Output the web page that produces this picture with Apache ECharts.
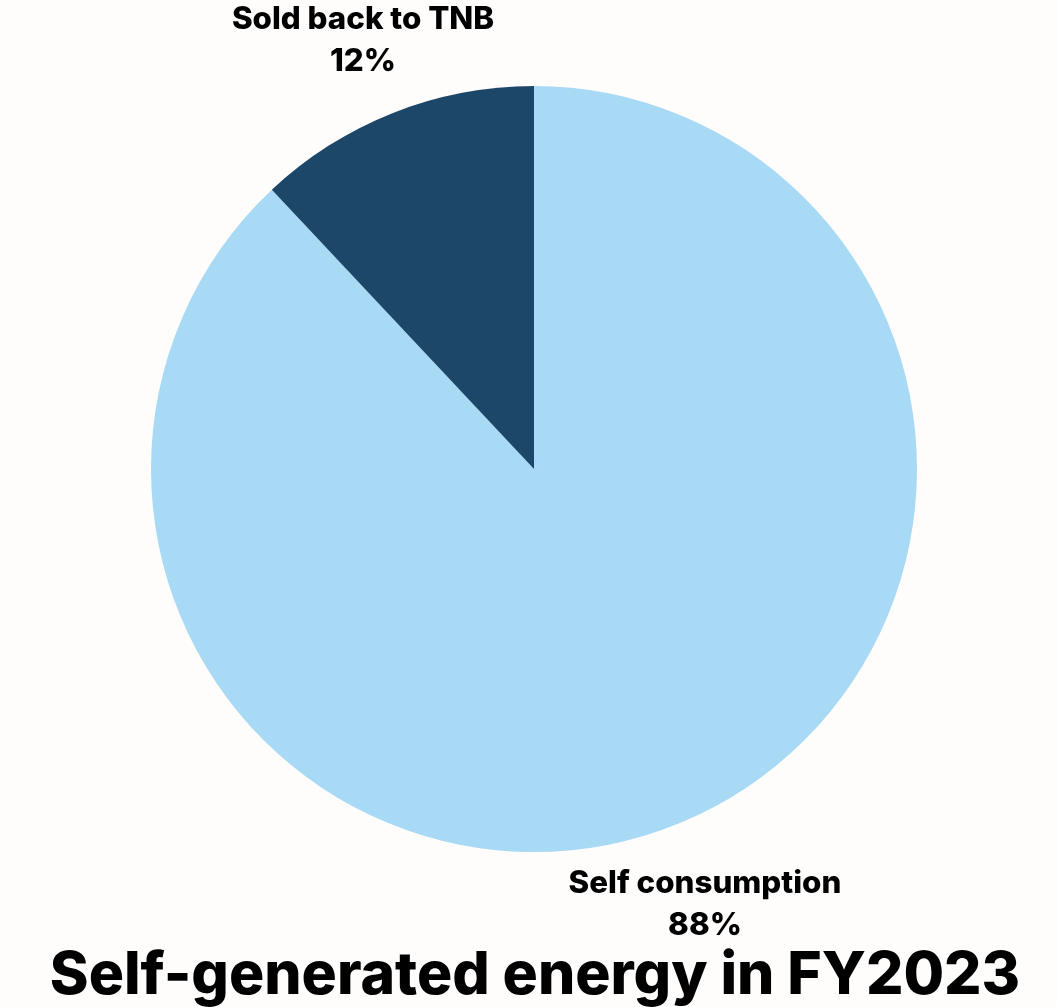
<!DOCTYPE html>
<html>
<head>
<meta charset="utf-8">
<script src="https://cdn.jsdelivr.net/npm/echarts@6/dist/echarts.min.js"></script>
<style>
html,body{margin:0;padding:0;background:#fffdfc;}
#chart{width:1057px;height:1007px;}
</style>
</head>
<body>
<div id="chart"></div>
<script>
const categories = ['Self consumption', 'Sold back to TNB'];
const values = [88, 12];
const colors = ['#a8daf5', '#1d4769'];
const titleText = 'Self-generated energy in FY2023';

const cx = 534, cy = 469, radius = 383, labelRadius = 464.5, labelDy = 3.5;
const total = values.reduce((a, b) => a + b, 0);

const chart = echarts.init(document.getElementById('chart'));
chart.setOption({
  backgroundColor: '#fffdfc',
  animation: false,
  title: {
    text: titleText,
    left: 530,
    textAlign: 'center',
    top: 942,
    textStyle: {fontFamily: 'Inter', fontWeight: 800, fontSize: 58.8, color: '#000'}
  },
  series: [{
    type: 'pie',
    center: [cx, cy],
    radius: radius,
    startAngle: 90,
    clockwise: true,
    data: categories.map((c, i) => ({name: c, value: values[i], itemStyle: {color: colors[i]}})),
    label: {
      show: true,
      position: 'inside',
      formatter: p => p.name + '\n' + Math.round(p.percent) + '%',
      fontFamily: 'Inter',
      fontWeight: 800,
      fontSize: 31.3,
      lineHeight: 42,
      color: '#000'
    },
    labelLine: {show: false},
    labelLayout: function (params) {
      let before = 0;
      for (let i = 0; i < params.dataIndex; i++) before += values[i];
      const mid = before + values[params.dataIndex] / 2;
      const ang = (90 - mid / total * 360) * Math.PI / 180;
      return {
        x: cx + labelRadius * Math.cos(ang),
        y: cy - labelRadius * Math.sin(ang) + labelDy,
        align: 'center',
        verticalAlign: 'middle'
      };
    }
  }]
});
</script>
</body>
</html>
